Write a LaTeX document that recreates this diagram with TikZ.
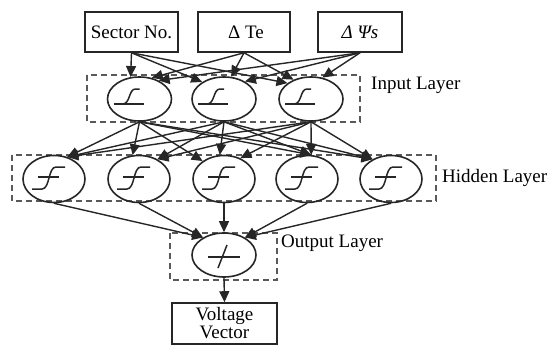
\documentclass[tikz,border=0pt]{standalone}
\usepackage{fontspec}
\setmainfont{Liberation Serif}
\usetikzlibrary{arrows.meta,shapes.geometric}
\begin{document}
\begin{tikzpicture}[x=1pt,y=-1pt,
  every node/.style={font=\fontsize{19}{18}\selectfont, text=black},
  neuron/.style={draw=black!85,ellipse,line width=1.6pt,minimum width=64pt,minimum height=44pt,inner sep=0pt},
  hneuron/.style={neuron,minimum width=62pt,minimum height=47pt},
  inbox/.style={draw=black!85,line width=1.6pt,rectangle,minimum height=40pt,inner sep=0pt},
  dashbox/.style={draw=black!65,line width=1.5pt,dash pattern=on 6pt off 4pt},
  arr/.style={draw=black!85,line width=1.4pt,-{Triangle[length=11pt,width=10pt]}},
  sym/.style={draw=black!85,line width=1.5pt},
  lbl/.style={anchor=west,inner sep=0pt}
]
\useasboundingbox (0,0) rectangle (556,345);

% input boxes
\node[inbox,minimum width=93pt] (sec) at (131.5,32) {Sector No.};
\node[inbox,minimum width=92pt] (te) at (244,32) {\hspace{4pt}Δ Te};
\node[inbox,minimum width=84pt] (psi) at (360,32) {\itshape Δ Ψs};

% dashed layer boxes
\draw[dashbox] (87,75) rectangle (360,122);
\draw[dashbox] (12,155) rectangle (436,201);
\draw[dashbox] (170,233) rectangle (277,280);

% input layer
\node[neuron] (i1) at (139.5,99) {};
\node[neuron] (i2) at (224,99) {};
\node[neuron] (i3) at (311,99) {};

% hidden layer
\node[hneuron] (h1) at (54,179) {};
\node[hneuron] (h2) at (139,179) {};
\node[hneuron] (h3) at (224,179) {};
\node[hneuron] (h4) at (307,179) {};
\node[hneuron] (h5) at (391,179) {};

% output
\node[neuron] (o) at (224,255) {};
\node[inbox,minimum width=105pt,minimum height=41pt,align=center] (v) at (224.5,323.5) {Voltage\\Vector};

% labels
\node[lbl] (lin) at (371,85) {Input Layer};
\node[lbl] (lhid) at (442,178) {Hidden Layer};
\node[lbl] (lout) at (281,243) {Output Layer};

% symbols
\foreach \n in {i1,i2,i3}{
  \begin{scope}[shift={(\n.center)}]
    \draw[sym] (-26,5) -- (4,5);
    \draw[sym] (-17,5) .. controls (-9,5) and (-11,-10) .. (-4,-10) -- (0,-10);
  \end{scope}
}
\foreach \n in {h1,h2,h3,h4,h5}{
  \begin{scope}[shift={(\n.center)}]
    \draw[sym] (-16,-2) -- (5,-2);
    \draw[sym] (-22,10) -- (-12,10) .. controls (-4,10) and (-6,-12) .. (2,-12) -- (11,-12);
  \end{scope}
}
\begin{scope}[shift={(o.center)}]
  \draw[sym] (-16,2) -- (16,2);
  \draw[sym] (-6,13) -- (3,-10);
\end{scope}

% boxes -> input layer
\draw[arr] (sec.south) -- (i1.112);
\draw[arr] (sec.south) -- (i2.142);
\draw[arr] (sec.south) -- (i3.146);
\draw[arr] (te.south) -- (i1.60);
\draw[arr] (te.south) -- (i2.72);
\draw[arr] (te.south) -- (i3.132);
\draw[arr] (psi.south) -- (i1.44);
\draw[arr] (psi.south) -- (i2.40);
\draw[arr] (psi.south) -- (i3.62);

% input -> hidden
\draw[arr] (i1.south) -- (h1.59);
\draw[arr] (i2.south) -- (h1.59);
\draw[arr] (i3.south) -- (h1.59);
\draw[arr] (i1.south) -- (h2.105);
\draw[arr] (i2.south) -- (h2.47);
\draw[arr] (i3.south) -- (h2.47);
\draw[arr] (i1.south) -- (h3.140);
\draw[arr] (i2.south) -- (h3.100);
\draw[arr] (i3.south) -- (h3.52);
\draw[arr] (i1.south) -- (h4.80);
\draw[arr] (i2.south) -- (h4.80);
\draw[arr] (i3.south) -- (h4.80);
\draw[arr] (i1.south) -- (h5.133);
\draw[arr] (i2.south) -- (h5.133);
\draw[arr] (i3.south) -- (h5.133);

% hidden -> output
\draw[arr] (h1.south) -- (o.140);
\draw[arr] (h2.south) -- (o.140);
\draw[arr] (h3.south) -- (o.north);
\draw[arr] (h4.south) -- (o.40);
\draw[arr] (h5.south) -- (o.40);

% output -> voltage vector
\draw[arr] (o.south) -- (v.north);
\end{tikzpicture}
\end{document}
